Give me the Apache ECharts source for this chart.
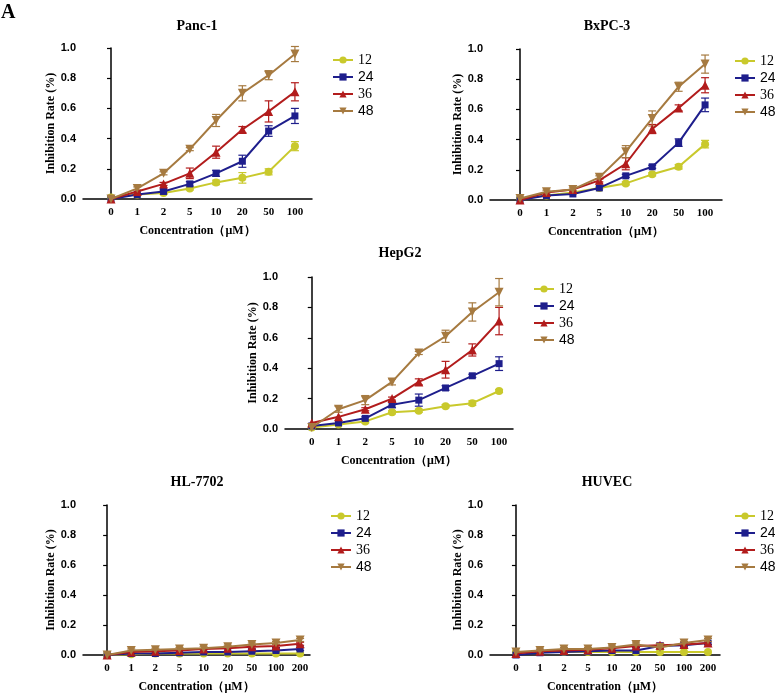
<!DOCTYPE html>
<html><head><meta charset="utf-8">
<script src="https://cdn.jsdelivr.net/npm/echarts@6/dist/echarts.min.js"></script>
<style>html,body{margin:0;padding:0;background:#fff}#c{width:775px;height:694px}</style>
</head><body><div id="c"></div>
<script>
// ---------- data ----------
const catsA = ['0','1','2','5','10','20','50','100'];
const catsB = ['0','1','2','5','10','20','50','100','200'];
const seriesNames = ['12','24','36','48'];
const panelNames = ['Panc-1','BxPC-3','HepG2','HL-7702','HUVEC'];
const yTicks = [0, 0.2, 0.4, 0.6, 0.8, 1.0];

const panc1_12 = [0.01, 0.03, 0.04, 0.07, 0.11, 0.14, 0.18, 0.35];
const panc1_24 = [0.00, 0.03, 0.05, 0.10, 0.17, 0.25, 0.45, 0.55];
const panc1_36 = [0.00, 0.05, 0.10, 0.17, 0.31, 0.46, 0.58, 0.71];
const panc1_48 = [0.00, 0.07, 0.17, 0.33, 0.52, 0.70, 0.82, 0.96];
const panc1_12e = [0, 0, 0.01, 0.01, 0.015, 0.035, 0.02, 0.03];
const panc1_24e = [0, 0, 0.01, 0.015, 0.02, 0.04, 0.035, 0.05];
const panc1_36e = [0, 0, 0.01, 0.035, 0.04, 0.02, 0.07, 0.06];
const panc1_48e = [0, 0.01, 0.01, 0.01, 0.04, 0.05, 0.03, 0.05];

const bxpc3_12 = [0.01, 0.03, 0.05, 0.08, 0.11, 0.17, 0.22, 0.37];
const bxpc3_24 = [0.00, 0.03, 0.04, 0.08, 0.16, 0.22, 0.38, 0.63];
const bxpc3_36 = [0.00, 0.05, 0.07, 0.13, 0.24, 0.47, 0.61, 0.76];
const bxpc3_48 = [0.01, 0.055, 0.07, 0.15, 0.32, 0.54, 0.75, 0.90];
const bxpc3_12e = [0, 0, 0, 0, 0.01, 0.01, 0.015, 0.025];
const bxpc3_24e = [0, 0, 0, 0, 0.01, 0.01, 0.025, 0.045];
const bxpc3_36e = [0, 0, 0, 0.01, 0.04, 0.03, 0.02, 0.05];
const bxpc3_48e = [0, 0.01, 0.01, 0.01, 0.04, 0.05, 0.03, 0.06];

const hepg2_12 = [0.01, 0.03, 0.05, 0.11, 0.12, 0.15, 0.17, 0.25];
const hepg2_24 = [0.02, 0.04, 0.07, 0.16, 0.19, 0.27, 0.35, 0.43];
const hepg2_36 = [0.04, 0.08, 0.13, 0.20, 0.31, 0.39, 0.52, 0.71];
const hepg2_48 = [0.01, 0.13, 0.19, 0.31, 0.50, 0.61, 0.77, 0.90];
const hepg2_12e = [0, 0, 0.01, 0.01, 0.01, 0.01, 0.015, 0.01];
const hepg2_24e = [0, 0, 0.01, 0.02, 0.04, 0.015, 0.01, 0.045];
const hepg2_36e = [0, 0, 0.01, 0.01, 0.02, 0.055, 0.04, 0.09];
const hepg2_48e = [0, 0.02, 0.03, 0.02, 0.01, 0.04, 0.06, 0.09];

const hl7702_12 = [0.00, 0.005, 0.01, 0.01, 0.01, 0.01, 0.01, 0.01, 0.01];
const hl7702_24 = [0.00, 0.01, 0.01, 0.015, 0.02, 0.02, 0.025, 0.03, 0.04];
const hl7702_36 = [0.00, 0.02, 0.025, 0.03, 0.04, 0.045, 0.055, 0.06, 0.075];
const hl7702_48 = [0.00, 0.03, 0.035, 0.04, 0.045, 0.055, 0.07, 0.08, 0.10];
const hl7702_12e = [0, 0, 0, 0, 0, 0, 0, 0, 0];
const hl7702_24e = [0, 0, 0, 0, 0, 0, 0.01, 0.01, 0.01];
const hl7702_36e = [0, 0, 0, 0, 0, 0, 0.01, 0.01, 0.01];
const hl7702_48e = [0, 0.01, 0.01, 0.01, 0.01, 0.01, 0.01, 0.01, 0.01];

const huvec_12 = [0.02, 0.02, 0.02, 0.02, 0.02, 0.02, 0.02, 0.02, 0.02];
const huvec_24 = [0.00, 0.015, 0.02, 0.025, 0.03, 0.03, 0.06, 0.065, 0.08];
const huvec_36 = [0.01, 0.025, 0.03, 0.035, 0.045, 0.06, 0.065, 0.07, 0.08];
const huvec_48 = [0.02, 0.03, 0.04, 0.04, 0.05, 0.07, 0.05, 0.08, 0.10];
const huvec_12e = [0, 0, 0, 0, 0, 0, 0, 0, 0];
const huvec_24e = [0, 0, 0, 0, 0, 0, 0.01, 0.01, 0.01];
const huvec_36e = [0, 0, 0, 0, 0, 0.01, 0.015, 0.01, 0.01];
const huvec_48e = [0, 0.01, 0.01, 0.01, 0.01, 0.01, 0.01, 0.01, 0.01];

const panels = [
  {name: panelNames[0], cats: catsA, values: [panc1_12, panc1_24, panc1_36, panc1_48], errors: [panc1_12e, panc1_24e, panc1_36e, panc1_48e]},
  {name: panelNames[1], cats: catsA, values: [bxpc3_12, bxpc3_24, bxpc3_36, bxpc3_48], errors: [bxpc3_12e, bxpc3_24e, bxpc3_36e, bxpc3_48e]},
  {name: panelNames[2], cats: catsA, values: [hepg2_12, hepg2_24, hepg2_36, hepg2_48], errors: [hepg2_12e, hepg2_24e, hepg2_36e, hepg2_48e]},
  {name: panelNames[3], cats: catsB, values: [hl7702_12, hl7702_24, hl7702_36, hl7702_48], errors: [hl7702_12e, hl7702_24e, hl7702_36e, hl7702_48e]},
  {name: panelNames[4], cats: catsB, values: [huvec_12, huvec_24, huvec_36, huvec_48], errors: [huvec_12e, huvec_24e, huvec_36e, huvec_48e]}
];

// ---------- styling / layout ----------
const colors = ['#c9c92c', '#1e1e8c', '#b21c1c', '#a67a40'];
const symbols = ['circle', 'rect', 'triangle', 'path://M0,0 L10,0 L5,9 Z'];
const symbolSizes = [8, 7, 9, 9];
const legendFonts = ['Liberation Serif', 'Liberation Sans', 'Liberation Serif', 'Liberation Sans'];
const layouts = [
  {left: 83, top: 48, width: 229, height: 151, xmin: -1.065, xmax: 7.65, titleX: 197, titleY: 26, legX: 327, legY: 48},
  {left: 490, top: 49, width: 232, height: 151, xmin: -1.135, xmax: 7.64, titleX: 607, titleY: 26, legX: 729, legY: 49},
  {left: 285, top: 277, width: 228, height: 152, xmin: -1.0, xmax: 7.52, titleX: 400, titleY: 253, legX: 528, legY: 277},
  {left: 83, top: 505, width: 227, height: 151, xmin: -1.0, xmax: 8.41, titleX: 197, titleY: 482, legX: 325, legY: 504},
  {left: 490, top: 505, width: 230, height: 152, xmin: -1.08, xmax: 8.5, titleX: 607, titleY: 482, legX: 729, legY: 504}
];

const option = {
  animation: false,
  backgroundColor: '#fff',
  graphic: [],
  grid: [], xAxis: [], yAxis: [], legend: [], series: []
};
option.graphic.push({type: 'text', x: 1, y: 3, style: {text: 'A', font: 'bold 20px "Liberation Serif"', fill: '#000'}});

const errSeries = [];
panels.forEach((p, k) => {
  const L = layouts[k];
  option.grid.push({left: L.left, top: L.top, width: L.width, height: L.height});
  option.graphic.push({type: 'text', x: L.titleX, y: L.titleY, style: {text: p.name, font: 'bold 14px "Liberation Serif"', fill: '#000', align: 'center', verticalAlign: 'middle'}});
  const cats = p.cats;
  option.xAxis.push({
    type: 'value', gridIndex: k, min: L.xmin, max: L.xmax,
    axisLine: {show: true, onZero: false, lineStyle: {color: '#000', width: 1.5}},
    axisTick: {show: false}, splitLine: {show: false},
    axisLabel: {customValues: cats.map((c, i) => i), formatter: v => cats[Math.round(v)], color: '#000',
      fontFamily: 'Liberation Serif', fontWeight: 'bold', fontSize: 11, margin: 8},
    name: 'Concentration（μM）', nameLocation: 'middle', nameGap: 26,
    nameTextStyle: {color: '#000', fontFamily: 'Liberation Serif', fontWeight: 'bold', fontSize: 12}
  });
  option.yAxis.push({
    type: 'value', gridIndex: k, min: yTicks[0], max: yTicks[yTicks.length - 1], interval: yTicks[1] - yTicks[0],
    axisLine: {show: true, lineStyle: {color: '#000', width: 1.5}},
    axisTick: {show: true, length: 4, lineStyle: {color: '#000', width: 1.2}},
    splitLine: {show: false},
    axisLabel: {formatter: v => v.toFixed(1), color: '#000', fontFamily: 'Liberation Sans', fontWeight: 'bold', fontSize: 11, margin: 7},
    name: 'Inhibition Rate (%)', nameLocation: 'middle', nameGap: 22, nameRotate: 90,
    nameTextStyle: {color: '#000', fontFamily: 'Liberation Serif', fontWeight: 'bold', fontSize: 12}
  });
  option.legend.push({
    left: L.legX, top: L.legY, orient: 'vertical', itemWidth: 20, itemHeight: 9, itemGap: 3,
    selectedMode: false,
    textStyle: {fontSize: 14, color: '#000', lineHeight: 14},
    data: seriesNames.map((n, s) => ({name: n, textStyle: {fontFamily: legendFonts[s]}}))
  });
  seriesNames.forEach((n, s) => {
    option.series.push({
      type: 'line', name: n, xAxisIndex: k, yAxisIndex: k,
      data: p.values[s].map((v, i) => [i, v]),
      symbol: symbols[s], symbolSize: symbolSizes[s], showAllSymbol: true,
      color: colors[s], lineStyle: {width: 2, color: colors[s]}, itemStyle: {color: colors[s]},
      z: 3 + s
    });
    const col = colors[s];
    errSeries.push({
      type: 'custom', xAxisIndex: k, yAxisIndex: k, z: 2 + s,
      data: p.values[s].map((v, i) => [i, v, p.errors[s][i]]).filter(d => d[2] > 0),
      encode: {x: 0, y: 1},
      renderItem: (params, api) => {
        const x = api.value(0), m = api.value(1), e = api.value(2);
        const t = api.coord([x, m + e]), b = api.coord([x, m - e]);
        const st = {stroke: col, lineWidth: 1.2};
        return {type: 'group', children: [
          {type: 'line', shape: {x1: t[0], y1: t[1], x2: b[0], y2: b[1]}, style: st},
          {type: 'line', shape: {x1: t[0] - 4, y1: t[1], x2: t[0] + 4, y2: t[1]}, style: st},
          {type: 'line', shape: {x1: b[0] - 4, y1: b[1], x2: b[0] + 4, y2: b[1]}, style: st}
        ]};
      }
    });
  });
});
option.series = option.series.concat(errSeries);

const chart = echarts.init(document.getElementById('c'), null, {renderer: 'canvas'});
chart.setOption(option);
</script></body></html>
